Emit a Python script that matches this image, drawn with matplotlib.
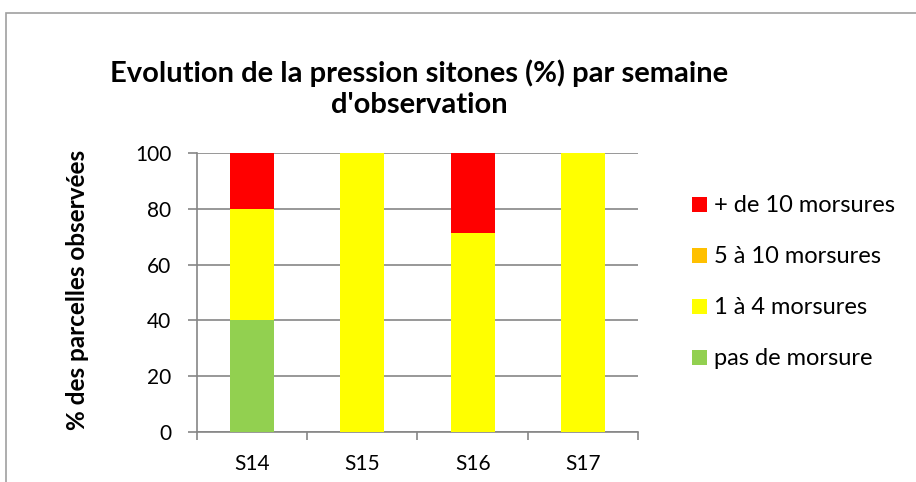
import matplotlib.pyplot as plt
from matplotlib.patches import Rectangle
import numpy as np

plt.rcParams['font.family'] = ['Lato', 'DejaVu Sans']

weeks = ['S14', 'S15', 'S16', 'S17']
pas_de_morsure = [40, 0, 0, 0]
un_a_quatre = [40, 100, 71.4, 100]
cinq_a_dix = [0, 0, 0, 0]
plus_de_dix = [20, 0, 28.6, 0]

series = [
    ('pas de morsure', pas_de_morsure, '#92D050'),
    ('1 à 4 morsures', un_a_quatre, '#FFFF00'),
    ('5 à 10 morsures', cinq_a_dix, '#FFC000'),
    ('+ de 10 morsures', plus_de_dix, '#FF0000'),
]

GRID = '#868686'

fig = plt.figure(figsize=(9.16, 4.82), dpi=100)
ax = fig.add_axes([0.215, 0.1037, 0.4815, 0.5789])

x = np.arange(len(weeks))
bottom = np.zeros(len(weeks))
handles = []
for label, values, color in series:
    bars = ax.bar(x, values, 0.4, bottom=bottom, color=color, label=label, zorder=3)
    handles.append(bars)
    bottom += np.array(values)

ax.set_xlim(-0.5, len(weeks) - 0.5)
ax.set_ylim(0, 100)
ax.set_yticks(range(0, 101, 20))
ax.yaxis.grid(True, color=GRID, linewidth=1.2, zorder=0)
ax.set_xticks(x)
ax.set_xticklabels(weeks)
ax.set_xticks(np.arange(-0.5, len(weeks)), minor=True)
ax.tick_params(axis='x', which='major', length=0, labelsize=15, pad=16)
ax.tick_params(axis='x', which='minor', length=6, color=GRID, width=1.2)
ax.tick_params(axis='y', length=6.5, color=GRID, width=1.2, labelsize=15, pad=12)
for side in ['top', 'right']:
    ax.spines[side].set_visible(False)
for side in ['left', 'bottom']:
    ax.spines[side].set_color(GRID)
    ax.spines[side].set_linewidth(1.2)

ax.set_ylabel('% des parcelles observées', fontsize=17.5, fontweight='bold')
ax.yaxis.set_label_coords(-0.245, 0.51)

fig.text(0.458, 0.816, "Evolution de la pression sitones (%) par semaine\nd'observation",
         ha='center', va='center', fontsize=21, fontweight='bold', linespacing=1.22)

leg = fig.legend(handles[::-1], [s[0] for s in series][::-1], loc='center left',
                 bbox_to_anchor=(0.756, 0.414), frameon=False, fontsize=17,
                 handlelength=0.6, handleheight=0.6, handletextpad=0.3,
                 labelspacing=1.27, borderpad=0, borderaxespad=0)

fig.patches.append(Rectangle((0.0066, -0.1), 1.1, 1.073, transform=fig.transFigure,
                             fill=False, edgecolor='#A0A0A0', linewidth=1.2))

fig.savefig('out.png', dpi=100)
